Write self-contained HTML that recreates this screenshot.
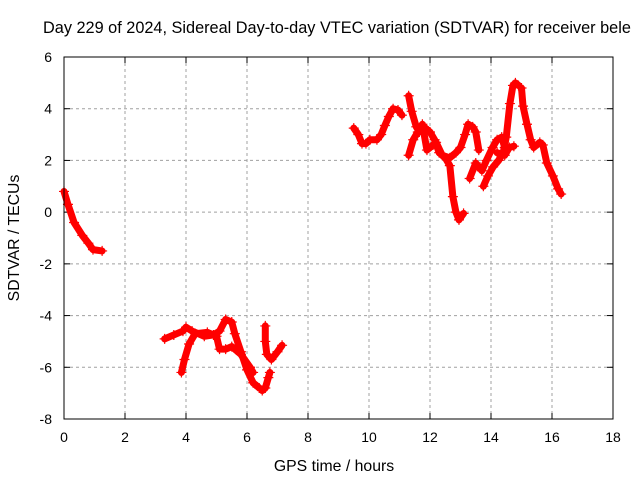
<!DOCTYPE html>
<html><head><meta charset="utf-8"><style>
body{margin:0;background:#fff;width:640px;height:480px;overflow:hidden}
svg{font-family:"Liberation Sans",sans-serif}
</style></head><body>
<svg id="chart" width="640" height="480">
<text x="43" y="33" font-size="16.3">Day 229 of 2024, Sidereal Day-to-day VTEC variation (SDTVAR) for receiver bele</text>
<text x="334" y="471" font-size="15.8" text-anchor="middle">GPS time / hours</text>
<text transform="translate(19,238) rotate(-90)" font-size="15.8" text-anchor="middle">SDTVAR / TECUs</text>
<g id="grid"></g><g id="ticks"></g><g id="marks"></g>
<rect x="64" y="57" width="549" height="362" fill="none" stroke="#000" stroke-width="1"/>
</svg>
<script>
const xTicks=[0,2,4,6,8,10,12,14,16,18];
const yTicks=[-8,-6,-4,-2,0,2,4,6];
const segA=[[0,0.8],[0.13,0.3],[0.33,-0.4],[0.6,-0.9],[0.8,-1.2],[0.95,-1.45],[1.25,-1.5]];
const segB1=[[3.3,-4.9],[3.6,-4.75],[3.9,-4.6],[4.0,-4.45],[4.2,-4.6],[4.6,-4.8],[4.9,-4.75],[5.1,-4.6],[5.3,-4.15],[5.5,-4.25],[5.6,-4.7],[5.8,-5.4],[6.0,-6.1],[6.2,-6.6],[6.4,-6.8]];
const segB2=[[3.85,-6.2],[3.95,-5.7],[4.1,-5.1],[4.3,-4.7],[4.7,-4.65],[5.0,-4.8],[5.1,-5.3],[5.3,-5.3],[5.5,-5.2],[5.8,-5.5],[6.1,-6.0],[6.2,-6.2]];
const segB3=[[6.6,-4.4],[6.6,-5.0],[6.65,-5.5],[6.8,-5.7],[7.0,-5.4],[7.15,-5.15]];
const segB4=[[6.5,-6.9],[6.6,-6.8],[6.7,-6.4],[6.75,-6.2]];
const segC1=[[9.5,3.25],[9.65,3.0],[9.77,2.65],[9.9,2.65],[10.03,2.8],[10.26,2.8],[10.4,3.0],[10.52,3.35],[10.65,3.7],[10.79,4.0],[10.95,3.95],[11.08,3.75]];
const segC2=[[11.3,4.5],[11.4,3.9],[11.55,3.3],[11.65,3.1],[11.8,3.3],[12.0,3.1],[12.15,2.8],[12.3,2.3],[12.5,2.1],[12.65,1.8],[12.75,0.6],[12.85,0.0],[12.95,-0.3],[13.1,-0.05]];
const segC3=[[11.3,2.2],[11.45,2.8],[11.6,3.1],[11.75,3.4],[11.9,2.4],[12.1,2.6],[12.2,2.7],[12.4,2.2],[12.65,2.1],[12.85,2.3],[13.0,2.5],[13.15,3.0],[13.25,3.4],[13.4,3.3],[13.5,3.1],[13.6,2.4]];
const segC4=[[13.3,1.3],[13.5,1.9],[13.7,1.6],[13.85,2.0],[14.05,2.5],[14.2,2.8],[14.35,2.9],[14.45,2.5]];
const segC5=[[13.75,1.0],[13.9,1.4],[14.07,1.75],[14.25,2.0],[14.4,2.3],[14.5,2.9],[14.62,4.2],[14.72,4.9],[14.8,5.0],[14.9,4.9]];
const segC6=[[15.0,4.8],[15.05,4.1],[15.18,3.4],[15.3,2.8],[15.4,2.5],[15.6,2.7],[15.7,2.6],[15.83,1.9],[16.03,1.4],[16.2,0.9],[16.3,0.7]];
const segC7=[[14.2,2.3],[14.45,2.2],[14.6,2.5],[14.75,2.55]];
const segments=[segA,segB1,segB2,segB3,segB4,segC1,segC2,segC3,segC4,segC5,segC6,segC7];

const X0=64,X1=613,Y0=419,Y1=57,xmin=0,xmax=18,ymin=-8,ymax=6;
function sx(v){return X0+(v-xmin)/(xmax-xmin)*(X1-X0);}
function sy(v){return Y0-(v-ymin)/(ymax-ymin)*(Y0-Y1);}
const NS='http://www.w3.org/2000/svg';
function mk(t,a,p){const e=document.createElementNS(NS,t);for(const k in a)e.setAttribute(k,a[k]);p.appendChild(e);return e;}
const grid=document.getElementById('grid'),ticks=document.getElementById('ticks'),marks=document.getElementById('marks');
xTicks.forEach(v=>{const x=sx(v);
 if(v>xmin&&v<xmax){const g=mk('line',{x1:x,x2:x,y1:Y1,y2:Y0,stroke:'#a0a0a0','stroke-dasharray':'3,3'},grid);
 
 }
 mk('line',{x1:x,x2:x,y1:Y0,y2:Y0-6,stroke:'#000'},ticks);mk('line',{x1:x,x2:x,y1:Y1,y2:Y1+6,stroke:'#000'},ticks);
 const t=mk('text',{x:x,y:Y0+23,'font-size':'14','text-anchor':'middle'},ticks);t.textContent=v;
 
 });
yTicks.forEach(v=>{const y=sy(v);
 if(v>ymin&&v<ymax){const g=mk('line',{x1:X0,x2:X1,y1:y,y2:y,stroke:'#a0a0a0','stroke-dasharray':'3,3'},grid);
 
 }
 mk('line',{x1:X0,x2:X0+6,y1:y,y2:y,stroke:'#000'},ticks);mk('line',{x1:X1,x2:X1-6,y1:y,y2:y,stroke:'#000'},ticks);
 const t=mk('text',{x:X0-12,y:y+5,'font-size':'14','text-anchor':'end'},ticks);t.textContent=v;
 
 });
segments.forEach(s=>{
 const pl=mk('polyline',{points:s.map(p=>sx(p[0])+','+sy(p[1])).join(' '),fill:'none',stroke:'#ff0000','stroke-width':7,'stroke-linejoin':'round','stroke-linecap':'round'},marks);
 
 
 s.forEach(p=>{const x=sx(p[0]),y=sy(p[1]);
  const m=mk('path',{d:`M${x-5},${y}H${x+5}M${x},${y-5}V${y+5}`,stroke:'#ff0000','stroke-width':1.2},marks);
  
  });
});
</script>
</body></html>
